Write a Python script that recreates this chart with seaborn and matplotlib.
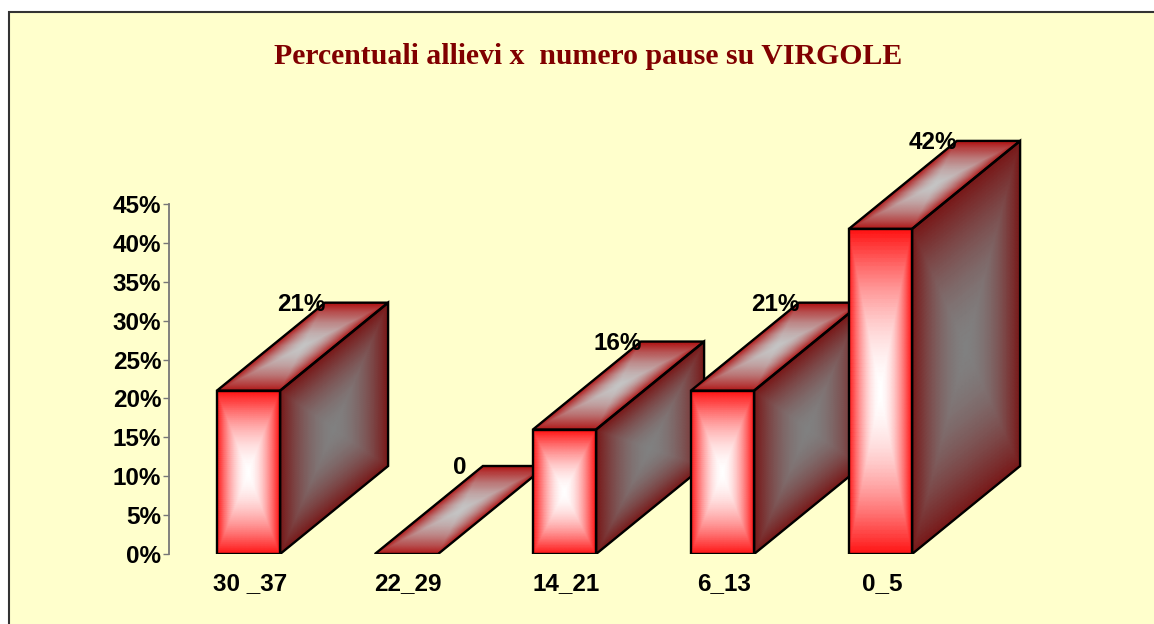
import numpy as np
import matplotlib
matplotlib.use("Agg")
import matplotlib.pyplot as plt
from matplotlib.patches import Polygon, Rectangle
from matplotlib.transforms import ScaledTranslation
import seaborn as sns

# values
categories = ["30 _37", "22_29", "14_21", "6_13", "0_5"]
positions = [0, 1, 2, 3, 4]
percent = [21, 0, 16, 21, 41.8]
bar_labels = ["21%", "0", "16%", "21%", "42%"]
y_ticks = [0, 5, 10, 15, 20, 25, 30, 35, 40, 45]
title = "Percentuali allievi x  numero pause su VIRGOLE"

W, H = 1154, 624
sns.set_theme(style="white")
plt.rcParams["font.family"] = ["Liberation Sans", "DejaVu Sans"]

fig = plt.figure(figsize=(W / 100, H / 100), dpi=100, facecolor="white")

# yellow panel, only top and left border show
fig.add_artist(Rectangle((9 / W, -0.1), 1.2, 1.1 - 12 / H, transform=fig.transFigure,
                         facecolor="#FFFFCC", edgecolor="#333333", linewidth=1.5, zorder=-1))

# axes placed so that 0% is at y=554 and 45% at y=204
y0_px, y45_px = 554, 204
px_per_pct = (y0_px - y45_px) / 45
top_pct = 70
ax_h = top_pct * px_per_pct
ax = fig.add_axes([169 / W, (H - y0_px) / H, (W - 169) / W, ax_h / H])
ax.patch.set_alpha(0)

sns.barplot(x=positions, y=percent, width=0.4, native_scale=True, color="#FF0000", saturation=1,
            edgecolor="black", linewidth=1.5, ax=ax)

front_cmap = sns.blend_palette(["#FFFFFF", "#FF1212"], as_cmap=True)
top_cmap = sns.blend_palette(["#C4C4C4", "#B01414"], as_cmap=True)
side_cmap = sns.blend_palette(["#808080", "#781818"], as_cmap=True)

# depth of the fake 3d boxes
depth_x = 108 / 158
depth_y = 88 / px_per_pct


def shade_face(x0, y0, ux, uy, vx, vy, cmap, z):
    # rectangular gradient from the middle of the face out to its edges
    u, v = np.meshgrid(np.linspace(-1, 1, 81), np.linspace(-1, 1, 81))
    X = x0 + (u + 1) / 2 * ux + (v + 1) / 2 * vx
    Y = y0 + (u + 1) / 2 * uy + (v + 1) / 2 * vy
    ax.pcolormesh(X, Y, np.maximum(np.abs(u), np.abs(v)) ** 1.8, cmap=cmap, vmin=0, vmax=1,
                  shading="gouraud", zorder=z)
    corners = [(x0, y0), (x0 + ux, y0 + uy), (x0 + ux + vx, y0 + uy + vy), (x0 + vx, y0 + vy)]
    ax.add_patch(Polygon(corners, closed=True, fill=False, edgecolor="black",
                         linewidth=1.7, joinstyle="miter", zorder=z + 0.1))


for i, bar in enumerate(list(ax.patches)):
    x, w, h = bar.get_x(), bar.get_width(), bar.get_height()
    z = 3 + i
    shade_face(x, h, w, 0, depth_x, depth_y, top_cmap, z)
    if h > 0:
        shade_face(x + w, 0, depth_x, depth_y, 0, h, side_cmap, z)
        shade_face(x, 0, w, 0, 0, h, front_cmap, z + 0.2)
    bar.set_visible(False)
    # label sits over the back corner of the top face
    ax.annotate(bar_labels[i], (x + depth_x, h + depth_y), xytext=(-17, 0.5),
                textcoords="offset points", ha="center", va="center_baseline",
                fontsize=17.5, fontweight="bold", color="black", zorder=20)

ax.set_xlim((169 - 248.5) / 158, (W - 248.5) / 158)
ax.set_ylim(0, top_pct)
ax.set_xticks(positions)
ax.set_xticklabels(categories, fontsize=17.5, fontweight="bold", color="black")
ax.set_yticks(y_ticks)
ax.set_yticklabels([f"{t}%" for t in y_ticks], fontsize=17.5, fontweight="bold", color="black")
ax.tick_params(axis="y", left=True, length=4.5, width=1, color="#777777", pad=1)
ax.tick_params(axis="x", bottom=False, length=0, pad=13)
# x labels sit a little right of the bar centres
for lab in ax.get_xticklabels():
    lab.set_transform(lab.get_transform() + ScaledTranslation(0.015, 0, fig.dpi_scale_trans))
ax.set_xlabel("")
ax.set_ylabel("")
ax.grid(False)

sns.despine(ax=ax, top=True, right=True, bottom=True)
ax.spines["left"].set_bounds(0, 45)
ax.spines["left"].set_color("#777777")
ax.spines["left"].set_linewidth(1.3)

fig.text(588 / W, 1 - 57 / H, title, ha="center", va="center", fontsize=21.4,
         fontweight="bold", color="#800000", family="Liberation Serif")

fig.savefig("out.png", dpi=100, facecolor=fig.get_facecolor())
